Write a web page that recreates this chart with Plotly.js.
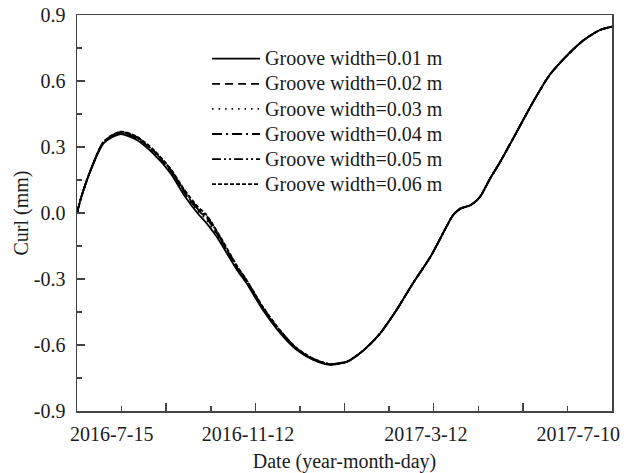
<!DOCTYPE html>
<html>
<head>
<meta charset="utf-8">
<script src="https://cdn.plot.ly/plotly-3.0.1.min.js"></script>
<style>html,body{margin:0;padding:0;background:#fff;}#chart{width:634px;height:473px;}</style>
</head>
<body>
<div id="chart"></div>
<script>
// Days from start of record (x)
const days = [0, 3, 9, 18, 29, 40, 51, 63, 72, 81, 87, 94, 108, 114, 125, 137, 148, 159, 170, 182,
  193, 204, 215, 226, 238, 248, 253, 258, 265, 271, 278, 285, 296, 307, 318, 330, 341, 352, 360];

const curl001 = [0, 0.075, 0.190, 0.318, 0.358, 0.333, 0.272, 0.180, 0.082, 0.000, -0.045, -0.108, -0.262, -0.318, -0.440, -0.548, -0.623, -0.668, -0.690, -0.676,
  -0.623, -0.547, -0.441, -0.320, -0.197, -0.070, -0.010, 0.020, 0.036, 0.072, 0.157, 0.235, 0.370, 0.506, 0.627, 0.718, 0.786, 0.832, 0.847];
const curl002 = [0, 0.075, 0.192, 0.322, 0.364, 0.341, 0.282, 0.192, 0.096, 0.016, -0.023, -0.092, -0.252, -0.310, -0.432, -0.542, -0.619, -0.665, -0.688, -0.675,
  -0.623, -0.547, -0.441, -0.320, -0.197, -0.070, -0.010, 0.020, 0.036, 0.072, 0.157, 0.235, 0.370, 0.506, 0.627, 0.718, 0.786, 0.832, 0.847];
const curl003 = [0, 0.075, 0.191, 0.320, 0.362, 0.338, 0.278, 0.188, 0.092, 0.010, -0.030, -0.098, -0.256, -0.313, -0.435, -0.544, -0.620, -0.666, -0.689, -0.675,
  -0.623, -0.547, -0.441, -0.320, -0.197, -0.070, -0.010, 0.020, 0.036, 0.072, 0.157, 0.235, 0.370, 0.506, 0.627, 0.718, 0.786, 0.832, 0.847];
const curl004 = [0, 0.075, 0.192, 0.323, 0.366, 0.343, 0.285, 0.195, 0.100, 0.020, -0.018, -0.088, -0.250, -0.308, -0.430, -0.540, -0.617, -0.664, -0.687, -0.674,
  -0.623, -0.547, -0.441, -0.320, -0.197, -0.070, -0.010, 0.020, 0.036, 0.072, 0.157, 0.235, 0.370, 0.506, 0.627, 0.718, 0.786, 0.832, 0.847];
const curl005 = [0, 0.075, 0.193, 0.324, 0.368, 0.346, 0.288, 0.198, 0.104, 0.025, -0.012, -0.084, -0.247, -0.305, -0.428, -0.538, -0.616, -0.663, -0.686, -0.674,
  -0.623, -0.547, -0.441, -0.320, -0.197, -0.070, -0.010, 0.020, 0.036, 0.072, 0.157, 0.235, 0.370, 0.506, 0.627, 0.718, 0.786, 0.832, 0.847];
const curl006 = [0, 0.075, 0.193, 0.325, 0.370, 0.348, 0.291, 0.201, 0.108, 0.030, -0.008, -0.080, -0.244, -0.303, -0.426, -0.536, -0.615, -0.662, -0.686, -0.674,
  -0.623, -0.547, -0.441, -0.320, -0.197, -0.070, -0.010, 0.020, 0.036, 0.072, 0.157, 0.235, 0.370, 0.506, 0.627, 0.718, 0.786, 0.832, 0.847];

const seriesNames = ['Groove width=0.01 m', 'Groove width=0.02 m', 'Groove width=0.03 m',
  'Groove width=0.04 m', 'Groove width=0.05 m', 'Groove width=0.06 m'];
const seriesValues = [curl001, curl002, curl003, curl004, curl005, curl006];
const dashes = ['solid', '8px,5px', '1.5px,5px', '10px,4px,2px,4px', '9px,3px,2px,3px,2px,3px', '4px,2px'];

const dateLabelPos = [23.4, 115.1, 234.8, 337.3];
const dateLabels = ['2016-7-15', '2016-11-12', '2017-3-12', '2017-7-10'];
const yTickVals = [-0.9, -0.6, -0.3, 0.0, 0.3, 0.6, 0.9];
const yTickText = ['-0.9', '-0.6', '-0.3', '0.0', '0.3', '0.6', '0.9'];

const fam = 'Liberation Serif, Times New Roman, serif';
const font = {family: fam, size: 20, color: '#1a1a1a'};

const traces = seriesValues.map((v, i) => ({
  x: days, y: v, type: 'scatter', mode: 'lines',
  name: '<span style="font-size:20px">' + seriesNames[i] + '</span>',
  line: {color: '#000', width: 1.8, dash: dashes[i], shape: 'spline', smoothing: 0.7}
}));
// carrier for the date tick labels axis (no marks)
traces.push({x: dateLabelPos, y: [null, null, null, null], xaxis: 'x2', yaxis: 'y',
  type: 'scatter', mode: 'lines', showlegend: false, hoverinfo: 'skip'});

const layout = {
  width: 634, height: 473,
  margin: {l: 77, r: 22, t: 15, b: 62},
  paper_bgcolor: '#fff', plot_bgcolor: '#fff',
  font: font,
  showlegend: true,
  legend: {x: 0.2431, y: 0.934, xanchor: 'left', yanchor: 'top', bgcolor: 'rgba(0,0,0,0)',
    font: {family: fam, size: 17, color: '#1a1a1a'}, itemwidth: 48, tracegroupgap: 0},
  xaxis: {range: [0, 360], dtick: 60, tick0: 0, ticks: 'inside', ticklen: 8, tickwidth: 1.5,
    tickcolor: '#444', showticklabels: false, showgrid: false, zeroline: false,
    showline: true, linecolor: '#444', linewidth: 1.5, mirror: true,
    minor: {dtick: 30, ticks: 'inside', ticklen: 5, tickwidth: 1.5, tickcolor: '#444', showgrid: false}},
  xaxis2: {overlaying: 'x', anchor: 'y', side: 'bottom', range: [0, 360],
    tickmode: 'array', tickvals: dateLabelPos, ticktext: dateLabels, ticks: '',
    showgrid: false, zeroline: false, showline: false, tickfont: font, ticklabelstandoff: 9,
    title: {text: 'Date (year-month-day)', font: font, standoff: 15}},
  yaxis: {range: [-0.9, 0.9], tickmode: 'array', tickvals: yTickVals, ticktext: yTickText,
    ticks: 'inside', ticklen: 8, tickwidth: 1.5, tickcolor: '#444', showgrid: false, zeroline: false,
    showline: true, linecolor: '#444', linewidth: 1.5, mirror: true, tickfont: font, ticklabelstandoff: 6,
    minor: {tickvals: [-0.75, -0.45, -0.15, 0.15, 0.45, 0.75], ticks: 'inside', ticklen: 5, tickwidth: 1.5, tickcolor: '#444', showgrid: false},
    title: {text: 'Curl (mm)', font: font, standoff: 0}}
};

Plotly.newPlot('chart', traces, layout, {staticPlot: true, displayModeBar: false});
</script>
</body>
</html>
